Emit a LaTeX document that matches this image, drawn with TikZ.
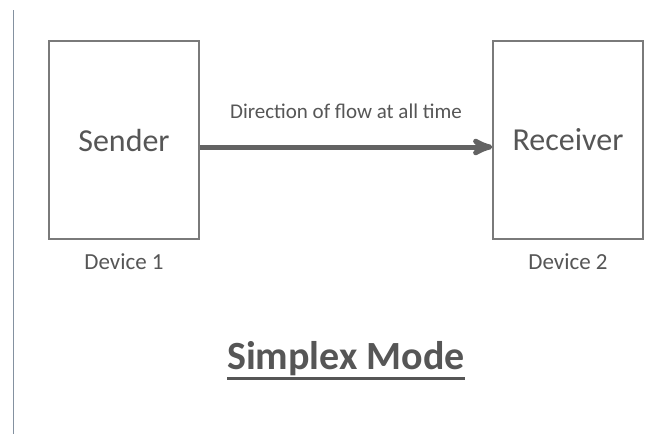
\documentclass[tikz,border=0pt]{standalone}
\usepackage{fontspec}
\setmainfont{Carlito}
\usepackage{tikz}
\usetikzlibrary{arrows,positioning}

\definecolor{ink}{HTML}{565656}
\definecolor{frame}{HTML}{7A7A7A}
\definecolor{flowgray}{HTML}{636363}
\definecolor{margin}{HTML}{8491A0}

\begin{document}
\begin{tikzpicture}[x=1pt, y=-1pt, >=stealth', auto,
	device/.style={draw=frame, line width=1.2pt, minimum width=150pt, minimum height=198pt,
		text=ink, font=\fontsize{32}{36}\selectfont},
	caption/.style={inner sep=0pt, text=ink, font=\fontsize{23}{26}\selectfont},
	flow/.style={->, draw=flowgray, line width=5pt},
	title/.style={inner sep=0pt, text=ink, font=\fontsize{40}{44}\selectfont\bfseries}]
	\useasboundingbox [fill=white] (0,0) rectangle (667,434);

	% Page margin line
	\draw [margin, line width=1pt] (13,10) -- (13,434);

	% Devices {Sender, Receiver}
	\node [device] 	(snd) at (124,140)	{Sender};
	\node [device] 	(rcv) at (568,140)	{Receiver};
	\node [caption]	(dev1) [below=14pt of snd]	{Device 1};
	\node [caption]	(dev2) [below=14pt of rcv]	{Device 2};

	% Flow Sender -> Receiver
	\draw [flow]	([yshift=-7pt]snd.east) -- node [inner sep=0pt, text=ink, yshift=26pt,
				font=\fontsize{21}{24}\selectfont] {Direction of flow at all time} ([yshift=-7pt]rcv.west);

	% Title
	\node [title]	(ttl) at (346,359)	{Simplex Mode};
	\draw [ink, line width=2.5pt] ([yshift=-2pt]ttl.south west) -- ([yshift=-2pt]ttl.south east);
\end{tikzpicture}
\end{document}
